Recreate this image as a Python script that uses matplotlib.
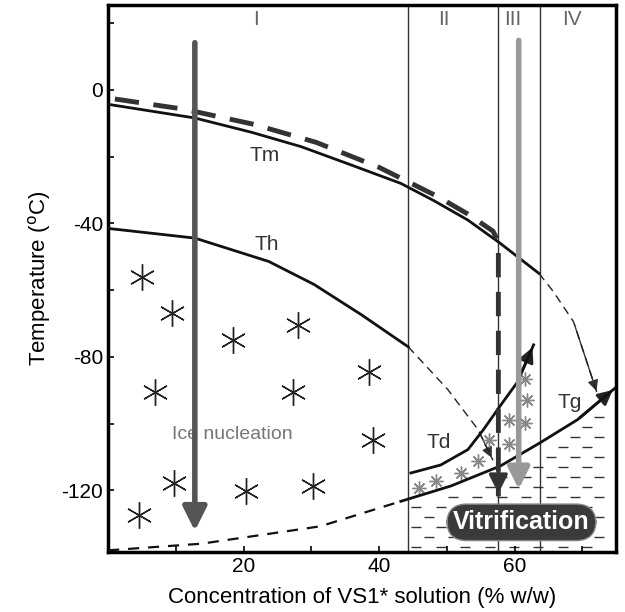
import numpy as np
import matplotlib
matplotlib.use("Agg")
from matplotlib import pyplot as plt

plt.rcParams['font.family'] = ['Liberation Sans', 'DejaVu Sans']
plt.rcParams['axes.unicode_minus'] = False

# melting curve Tm (solid) and its dashed continuation
tm_x = [0.0, 12.8, 21.2, 28.5, 35.9, 43.2, 48.1, 53.1, 57.9, 63.6]
tm_y = [-4.3, -8.4, -12.7, -17.0, -22.5, -28.0, -33.2, -39.0, -46.0, -55.0]
tm_ext_x = [63.6, 65.7, 68.7, 72.2]
tm_ext_y = [-55.0, -60.4, -69.5, -91.0]

# cooling path (thick dashed) running above Tm then straight down
cool_x = [1.0, 11.3, 21.5, 30.7, 40.0, 48.7, 53.1, 56.8, 57.6, 57.6]
cool_y = [-2.7, -5.8, -10.3, -15.7, -23.2, -32.0, -37.2, -42.3, -45.5, -121.8]

# homogeneous nucleation Th
th_x = [0.0, 12.8, 23.7, 30.4, 37.4, 44.3]
th_y = [-41.5, -44.4, -51.4, -58.3, -67.4, -77.0]
th_ext_x = [44.3, 50.1, 54.6, 56.8]
th_ext_y = [-77.0, -89.7, -101.8, -111.0]

# devitrification Td
td_x = [44.7, 49.1, 53.1, 55.4, 57.9, 60.4, 62.8]
td_y = [-114.8, -112.4, -107.8, -101.8, -94.6, -87.6, -76.4]

# glass transition Tg
tg_dash_x = [0.0, 13.8, 31.3, 43.2]
tg_dash_y = [-138.0, -136.0, -130.8, -123.3]
tg_x = [43.2, 50.6, 57.9, 63.8, 69.3, 74.8]
tg_y = [-123.3, -118.7, -112.7, -105.7, -98.8, -89.4]

# ice crystals (big) and devitrification crystals (small)
ice_x = [5.0, 9.4, 18.5, 28.0, 6.9, 27.3, 38.5, 39.1, 9.7, 20.4, 30.3, 4.5]
ice_y = [-56, -67, -75, -70.5, -90.6, -90.6, -84.6, -105, -117.8, -120.2, -118.7, -127.5]
dev_x = [45.9, 48.4, 52.1, 54.6, 56.2, 59.1, 59.1, 61.6, 61.9, 61.6]
dev_y = [-119.3, -117.2, -114.8, -111.2, -105.0, -106.2, -99.0, -99.7, -93.0, -86.7]

region_bounds = [44.3, 57.5, 63.7]
region_names = ['I', 'II', 'III', 'IV']
region_label_x = [21.9, 49.6, 59.7, 68.5]

fig = plt.figure(figsize=(6.25, 6.12), dpi=100)
ax = fig.add_axes([0.173, 0.098, 0.813, 0.894])
ax.set_xlim(0, 75)
ax.set_ylim(-138.5, 25.5)

# glassy region texture: short dashes under Tg
gx, gy = np.meshgrid(np.arange(45.5, 75, 3.6), np.arange(-137, -88, 3.0))
gx = gx + (np.arange(gx.shape[0])[:, None] % 2) * 1.8
under = (gy < np.interp(gx, tg_x, tg_y) - 2.5) & (gx < 74.0)
ax.plot(gx[under], gy[under], '_', color='#333333', ms=7, mew=1.0, zorder=1)

for b in region_bounds:
    ax.axvline(b, color='#333333', lw=1.0, zorder=2)
for name, rx in zip(region_names, region_label_x):
    ax.text(rx, 21, name, ha='center', va='center', fontsize=15, color='#666666')

ax.plot(tm_x, tm_y, color='#111111', lw=2.0, zorder=4)
ax.plot(tm_ext_x, tm_ext_y, color='#222222', lw=1.0, ls=(0, (6, 4)), zorder=4)
ax.annotate('', xy=(tm_ext_x[-1], tm_ext_y[-1]), xytext=(tm_ext_x[-2], tm_ext_y[-2]),
            arrowprops=dict(arrowstyle='-|>', color='#333333', lw=1.0, mutation_scale=16))

ax.plot(th_x, th_y, color='#111111', lw=2.0, zorder=4)
ax.plot(th_ext_x, th_ext_y, color='#222222', lw=1.0, ls=(0, (6, 4)), zorder=4)
ax.annotate('', xy=(th_ext_x[-1], th_ext_y[-1]), xytext=(th_ext_x[-2], th_ext_y[-2]),
            arrowprops=dict(arrowstyle='-|>', color='#333333', lw=1.0, mutation_scale=16))

ax.plot(td_x, td_y, color='#111111', lw=2.0, zorder=4)
ax.annotate('', xy=(td_x[-1], td_y[-1]), xytext=(td_x[-2], td_y[-2]),
            arrowprops=dict(arrowstyle='-|>', color='#222222', lw=2.0, mutation_scale=22))

ax.plot(tg_dash_x, tg_dash_y, color='#111111', lw=1.6, ls=(0, (5, 4)), zorder=4)
ax.plot(tg_x, tg_y, color='#111111', lw=2.0, zorder=4)
ax.annotate('', xy=(tg_x[-1], tg_y[-1]), xytext=(tg_x[-2], tg_y[-2]),
            arrowprops=dict(arrowstyle='-|>', color='#222222', lw=2.0, mutation_scale=22))

# thick dashed cooling path
ax.plot(cool_x, cool_y, color='#333333', lw=3.5, ls=(0, (5, 3)), zorder=5)
ax.annotate('', xy=(cool_x[-1], cool_y[-1]), xytext=(cool_x[-1], cool_y[-1] + 8),
            arrowprops=dict(arrowstyle='-|>', color='#333333', lw=2.5, mutation_scale=28), zorder=6)

# slow cooling arrow (region I) and fast cooling arrow (region III)
ax.annotate('', xy=(12.8, -133), xytext=(12.8, 15),
            arrowprops=dict(arrowstyle='-|>', color='#555555', lw=4, mutation_scale=36), zorder=6)
ax.annotate('', xy=(60.6, -120.5), xytext=(60.6, 15.7),
            arrowprops=dict(arrowstyle='-|>', color='#999999', lw=4, mutation_scale=32), zorder=6)

ax.plot(ice_x, ice_y, ls='none', marker=(6, 2, 0), ms=19, mew=1.0, color='#222222', zorder=3)
ax.plot(dev_x, dev_y, ls='none', marker=(8, 2, 0), ms=10, mew=1.0, color='#888888', zorder=3)

ax.text(23.1, -19.6, 'Tm', fontsize=15, color='#333333', ha='center', va='center')
ax.text(23.4, -46.2, 'Th', fontsize=15, color='#333333', ha='center', va='center')
ax.text(48.8, -105.7, 'Td', fontsize=15, color='#333333', ha='center', va='center')
ax.text(68.2, -93.7, 'Tg', fontsize=15, color='#333333', ha='center', va='center')
ax.text(18.4, -103.3, 'Ice nucleation', fontsize=14, color='#777777', ha='center', va='center', zorder=5)
ax.text(61.0, -129.6, 'Vitrification', fontsize=18, fontweight='bold', color='white',
        ha='center', va='center', zorder=8,
        bbox=dict(boxstyle='round,pad=0.25,rounding_size=0.8', fc='#3a3a3a', ec='#888888', lw=1))

ax.set_xticks([20, 40, 60])
ax.set_xticks([10, 30, 50, 70], minor=True)
ax.set_yticks([-120, -80, -40, 0])
ax.set_yticks([-100, -60, -20, 20], minor=True)
ax.tick_params(which='both', direction='in', length=4, width=1.2, labelsize=15)
ax.set_xlabel('Concentration of VS1* solution (% w/w)', fontsize=16, labelpad=8)
ax.set_ylabel('Temperature ($^{\\rm o}$C)', fontsize=16, labelpad=6)
for s in ax.spines.values():
    s.set_linewidth(2.5)

fig.savefig('out.png', dpi=100)
